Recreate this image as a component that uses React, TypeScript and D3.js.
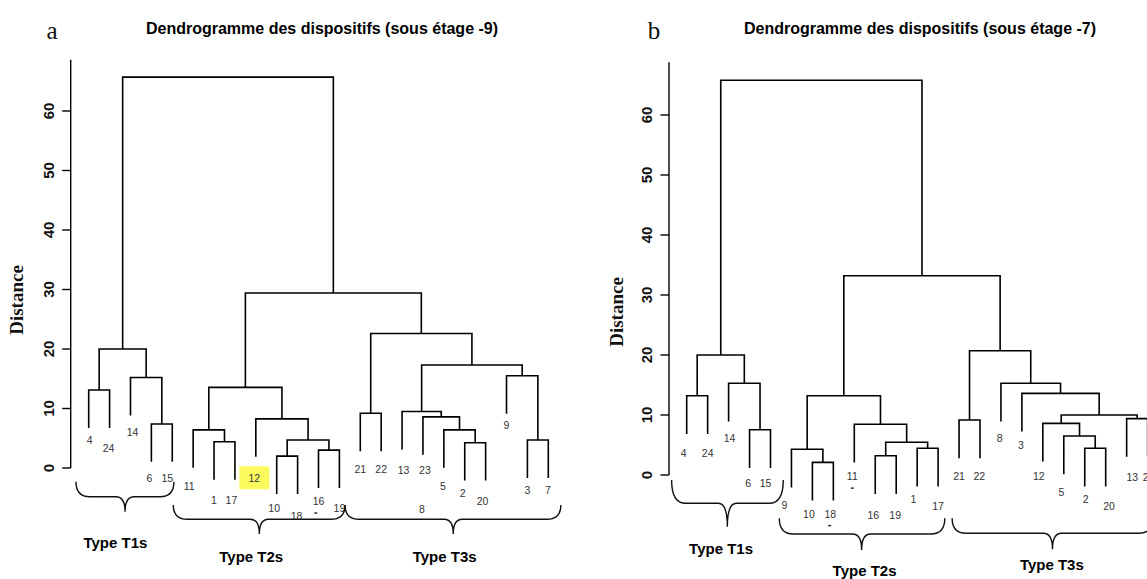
import React from "react";
import * as d3 from "d3";

type Merge = [string, string, number];

// ---- data: hierarchical merges (child labels or "#k" = k-th merge), merge height ----
const mergesA: Merge[] = [
  ["4", "24", 13.1],
  ["6", "15", 7.4],
  ["14", "#1", 15.2],
  ["#0", "#2", 20.0],
  ["1", "17", 4.4],
  ["11", "#4", 6.4],
  ["10", "18", 2.0],
  ["16", "19", 3.0],
  ["#6", "#7", 4.7],
  ["12", "#8", 8.25],
  ["#5", "#9", 13.55],
  ["21", "22", 9.2],
  ["2", "20", 4.25],
  ["5", "#12", 6.4],
  ["23", "#13", 8.6],
  ["13", "#14", 9.5],
  ["3", "7", 4.7],
  ["9", "#16", 15.5],
  ["#15", "#17", 17.3],
  ["#11", "#18", 22.6],
  ["#10", "#19", 29.4],
  ["#3", "#20", 65.7],
];

const mergesB: Merge[] = [
  ["4", "24", 13.2],
  ["6", "15", 7.55],
  ["14", "#1", 15.3],
  ["#0", "#2", 20.0],
  ["10", "18", 2.1],
  ["9", "#4", 4.3],
  ["16", "19", 3.2],
  ["1", "17", 4.45],
  ["#6", "#7", 5.45],
  ["11", "#8", 8.45],
  ["#5", "#9", 13.2],
  ["21", "22", 9.17],
  ["2", "20", 4.45],
  ["5", "#12", 6.5],
  ["12", "#13", 8.6],
  ["13", "23", 9.4],
  ["#14", "#15", 10.0],
  ["3", "#16", 13.6],
  ["8", "#17", 15.3],
  ["#11", "#18", 20.7],
  ["#10", "#19", 33.2],
  ["#3", "#20", 65.8],
];

const yTicks = [0, 10, 20, 30, 40, 50, 60];
const titleA = "Dendrogramme des dispositifs (sous étage -9)";
const titleB = "Dendrogramme des dispositifs (sous étage -7)";
const groupLabels = ["Type T1s", "Type T2s", "Type T3s"];
const yLabel = "Distance";

// ---- layout (positions / nudges of hand-placed labels) ----
type Brace = { x0: number; x1: number; xc: number; top: number; mid: number; tip: number; lx: number; ly: number };
type Panel = {
  merges: Merge[];
  letter: string; letterX: number; letterY: number;
  title: string; titleX: number; titleY: number;
  xRange: [number, number]; yRange: [number, number];
  axisX: number; axisTop: number; tickLabelX: number;
  distX: number; distY: number;
  braces: Brace[];
  nudges: Record<string, [number, number]>;
  highlight?: string;
  dashes: Record<string, [number, number]>;
  extra: { text: string; leaf: string; dx: number; dy: number }[];
};

const panelA: Panel = {
  merges: mergesA,
  letter: "a", letterX: 52, letterY: 39,
  title: titleA, titleX: 322, titleY: 34,
  xRange: [88.7, 548.3], yRange: [468, 111],
  axisX: 70.7, axisTop: 68.6, tickLabelX: 53.5,
  distX: 23, distY: 300,
  braces: [
    { x0: -0.61, x1: 4.08, xc: 1.74, top: 481.7, mid: 496.7, tip: 511.7, lx: 1.28, ly: 547.5 },
    { x0: 4.05, x1: 12.27, xc: 8.17, top: 505, mid: 519.3, tip: 534, lx: 7.78, ly: 561.5 },
    { x0: 12.27, x1: 22.6, xc: 17.45, top: 505, mid: 519.3, tip: 534, lx: 17.04, ly: 561.5 },
  ],
  nudges: {
    "4": [1, 12], "24": [-1, 20], "14": [2, 17], "6": [-2, 16], "15": [-5, 16], "11": [-4, 18],
    "1": [0, 21], "17": [-3.5, 21], "12": [-1.5, 21], "10": [-2.5, 14], "18": [-1, 22], "16": [0, 13],
    "19": [0, 20], "21": [0, 18], "22": [0, 18], "13": [1.5, 21], "23": [2, 16], "5": [-1, 18],
    "2": [-2, 13], "20": [-3, 21], "9": [0, 12], "3": [0, 12], "7": [-0.5, 12],
  },
  highlight: "12",
  dashes: { "16": [-2.7, 12] },
  extra: [{ text: "8", leaf: "23", dx: -1, dy: 54.7 }],
};

const panelB: Panel = {
  merges: mergesB,
  letter: "b", letterX: 654, letterY: 38.5,
  title: titleB, titleX: 920, titleY: 34,
  xRange: [686.7, 1147.6], yRange: [475, 115],
  axisX: 669, axisTop: 68.8, tickLabelX: 652,
  distX: 623.3, distY: 312,
  braces: [
    { x0: -0.72, x1: 4.61, xc: 1.94, top: 480, mid: 503.3, tip: 526.7, lx: 1.64, ly: 554 },
    { x0: 4.42, x1: 12.32, xc: 8.35, top: 518.3, mid: 534, tip: 550, lx: 8.49, ly: 576.4 },
    { x0: 12.67, x1: 22.25, xc: 17.46, top: 518.3, mid: 533.3, tip: 549.3, lx: 17.43, ly: 569.7 },
  ],
  nudges: {
    "4": [-3, 19], "24": [0, 19], "14": [1, 17], "6": [-1.5, 15.6], "15": [-5, 15.6], "9": [-7, 18],
    "10": [-3.5, 14], "18": [-3, 14], "11": [-2, 14], "16": [-2, 21], "19": [-1, 21], "1": [-3.7, 12.6],
    "17": [0, 20], "21": [0, 18.4], "22": [-0.7, 18.4], "8": [-1.4, 16.6], "3": [-1, 14], "12": [-4, 15],
    "5": [-2.3, 17.7], "2": [1, 12.6], "20": [3.3, 20], "13": [5.6, 20], "23": [1, 20],
  },
  dashes: { "11": [0, 11.6], "18": [-0.7, 11] },
  extra: [],
};

const SANS = "'Liberation Sans', Arial, Helvetica, sans-serif";
const SERIF = "'Liberation Serif', 'Times New Roman', serif";

function bracePath(x0: number, x1: number, xc: number, top: number, mid: number, tip: number) {
  const r = 14;
  const r2 = 9;
  return [
    `M${x0},${top}`,
    `Q${x0},${mid} ${x0 + r},${mid}`,
    `L${xc - r2},${mid}`,
    `Q${xc},${mid} ${xc},${tip}`,
    `Q${xc},${mid} ${xc + r2},${mid}`,
    `L${x1 - r},${mid}`,
    `Q${x1},${mid} ${x1},${top}`,
  ].join(" ");
}

function Dendro({ p }: { p: Panel }) {
  const merges = p.merges;
  const n = merges.length;
  const heights = merges.map((m) => m[2]);
  const hang = 0.1 * (d3.max(heights)! - d3.min(heights)!);

  const order: string[] = [];
  const walk = (i: number) => {
    for (const c of [merges[i][0], merges[i][1]]) {
      if (c.startsWith("#")) walk(+c.slice(1));
      else order.push(c);
    }
  };
  walk(n - 1);

  const x = d3.scalePoint<string>().domain(order).range(p.xRange);
  const xi = d3.scaleLinear().domain([0, order.length - 1]).range(p.xRange);
  const y = d3.scaleLinear().domain([0, 60]).range(p.yRange);

  const nodeX: number[] = [];
  const leafBottom: Record<string, number> = {};
  const paths: string[] = [];
  const getX = (c: string): number => (c.startsWith("#") ? nodeX[+c.slice(1)] : (x(c) as number));
  merges.forEach(([l, r, h], i) => {
    const xl = getX(l);
    const xr = getX(r);
    nodeX[i] = (xl + xr) / 2;
    const bl = l.startsWith("#") ? merges[+l.slice(1)][2] : h - hang;
    const br = r.startsWith("#") ? merges[+r.slice(1)][2] : h - hang;
    if (!l.startsWith("#")) leafBottom[l] = h - hang;
    if (!r.startsWith("#")) leafBottom[r] = h - hang;
    paths.push(`M${xl},${y(bl)}V${y(h)}H${xr}V${y(br)}`);
  });

  const labelPos = (leaf: string) => {
    const [dx, dy] = p.nudges[leaf] || [0, 17];
    return [(x(leaf) as number) + dx, y(leafBottom[leaf]) + dy];
  };

  return (
    <g>
      <text x={p.letterX} y={p.letterY} fontFamily={SERIF} fontSize={25} textAnchor="middle" fill="#111">
        {p.letter}
      </text>
      <text x={p.titleX} y={p.titleY} fontFamily={SANS} fontSize={16} fontWeight="bold" textAnchor="middle" fill="#000">
        {p.title}
      </text>

      {/* axis */}
      <line x1={p.axisX} x2={p.axisX} y1={y(0)} y2={y(p.axisTop)} stroke="#000" strokeWidth={1.4} />
      {yTicks.map((t) => (
        <g key={t}>
          <line x1={p.axisX - 8.5} x2={p.axisX} y1={y(t)} y2={y(t)} stroke="#000" strokeWidth={1.4} />
          <text
            transform={`translate(${p.tickLabelX},${y(t)}) rotate(-90)`}
            textAnchor="middle"
            fontFamily={SANS}
            fontSize={15}
            fontWeight="bold"
            fill="#111"
          >
            {t}
          </text>
        </g>
      ))}
      <text
        transform={`translate(${p.distX},${p.distY}) rotate(-90)`}
        textAnchor="middle"
        fontFamily={SERIF}
        fontSize={19}
        fontWeight="bold"
        fill="#111"
      >
        {yLabel}
      </text>

      {/* tree */}
      {paths.map((d, i) => (
        <path key={i} d={d} fill="none" stroke="#000" strokeWidth={1.6} />
      ))}

      {/* highlight */}
      {p.highlight &&
        (() => {
          const [cx, cy] = labelPos(p.highlight!);
          return <rect x={cx - 15} y={cy - 11.5} width={30} height={23} fill="#fbfb5e" />;
        })()}

      {/* leaf labels */}
      {order.map((leaf) => {
        const [cx, cy] = labelPos(leaf);
        return (
          <text key={leaf} x={cx} y={cy + 3.7} textAnchor="middle" fontFamily={SANS} fontSize={10.5} fill="#333">
            {leaf}
          </text>
        );
      })}
      {Object.entries(p.dashes).map(([leaf, [dx, dy]]) => {
        const [cx, cy] = labelPos(leaf);
        return <rect key={"d" + leaf} x={cx + dx - 1.5} y={cy + dy - 0.7} width={3} height={1.4} fill="#222" />;
      })}
      {p.extra.map((e) => {
        const cx = (x(e.leaf) as number) + e.dx;
        const cy = y(leafBottom[e.leaf]) + e.dy;
        return (
          <text key={"e" + e.text} x={cx} y={cy + 3.7} textAnchor="middle" fontFamily={SANS} fontSize={10.5} fill="#333">
            {e.text}
          </text>
        );
      })}

      {/* braces + group labels */}
      {p.braces.map((b, i) => (
        <g key={"b" + i}>
          <path d={bracePath(xi(b.x0), xi(b.x1), xi(b.xc), b.top, b.mid, b.tip)} fill="none" stroke="#111" strokeWidth={1.4} />
          <text x={xi(b.lx)} y={b.ly} textAnchor="middle" fontFamily={SANS} fontSize={15} fontWeight="bold" fill="#000">
            {groupLabels[i]}
          </text>
        </g>
      ))}
    </g>
  );
}

export default function App() {
  return (
    <svg
      width={1147}
      height={579}
      viewBox="0 0 1147 579"
      style={{ position: "absolute", left: 0, top: 0, background: "#fff", overflow: "hidden" }}
    >
      <rect x={0} y={0} width={1147} height={579} fill="#fff" />
      <Dendro p={panelA} />
      <Dendro p={panelB} />
    </svg>
  );
}
